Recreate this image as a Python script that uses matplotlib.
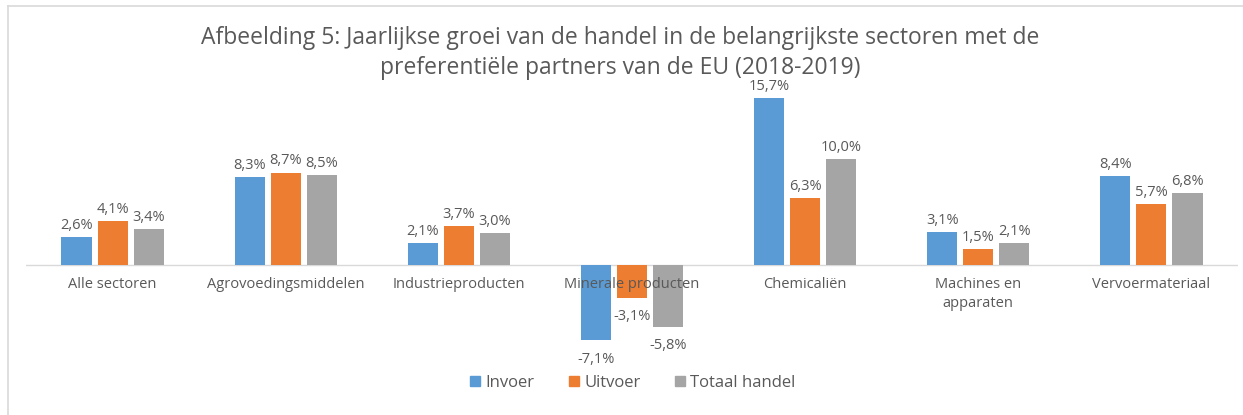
import matplotlib
matplotlib.use("Agg")
import matplotlib.pyplot as plt
from matplotlib.lines import Line2D
import numpy as np

plt.rcParams['font.family'] = ['Open Sans', 'DejaVu Sans']

categories = ["Alle sectoren", "Agrovoedingsmiddelen", "Industrieproducten",
              "Minerale producten", "Chemicaliën", "Machines en\napparaten",
              "Vervoermateriaal"]
series_names = ["Invoer", "Uitvoer", "Totaal handel"]
invoer = [2.6, 8.3, 2.1, -7.1, 15.7, 3.1, 8.4]
uitvoer = [4.1, 8.7, 3.7, -3.1, 6.3, 1.5, 5.7]
totaal = [3.4, 8.5, 3.0, -5.8, 10.0, 2.1, 6.8]
colors = ["#5B9BD5", "#ED7D31", "#A5A5A5"]
text_color = "#595959"

W, H = 1243, 415
fig = plt.figure(figsize=(W / 100, H / 100), dpi=100)

# axes placement in pixels
ax_left, ax_right = 26, 1238
ax_top, ax_bottom = 95, 350
ax = fig.add_axes([ax_left / W, 1 - ax_bottom / H,
                   (ax_right - ax_left) / W, (ax_bottom - ax_top) / H])

x = np.arange(len(categories))
bw = 0.174
step = 0.208
data = [invoer, uitvoer, totaal]
for i, (vals, c, name) in enumerate(zip(data, colors, series_names)):
    pos = x + (i - 1) * step
    ax.bar(pos, vals, width=bw, color=c, label=name, zorder=2)
    for px, v in zip(pos, vals):
        lbl = f"{v:.1f}%".replace(".", ",")
        if v >= 0:
            ax.annotate(lbl, (px, v), xytext=(0, 3), textcoords="offset points",
                        ha="center", va="bottom", fontsize=10.5, color=text_color)
        else:
            ax.annotate(lbl, (px, v), xytext=(0, -8), textcoords="offset points",
                        ha="center", va="top", fontsize=10.5, color=text_color)

ax.set_xlim(-0.5, len(categories) - 0.5)
ax.set_ylim(-8, 16)
ax.axhline(0, color="#D9D9D9", lw=1, zorder=1)
for s in ax.spines.values():
    s.set_visible(False)
ax.set_yticks([])
ax.set_xticks([])
for xi, cat in zip(x, categories):
    fig.text((ax_left + (xi + 0.5) * (ax_right - ax_left) / len(categories)) / W,
             1 - 277 / H, cat, ha="center", va="top", fontsize=10.5,
             color=text_color, linespacing=1.4, zorder=5)

fig.text(620 / W, 1 - 38 / H,
         "Afbeelding 5: Jaarlijkse groei van de handel in de belangrijkste sectoren met de",
         ha="center", va="center", fontsize=16.5, color=text_color)
fig.text(620 / W, 1 - 68 / H,
         "preferentiële partners van de EU (2018-2019)",
         ha="center", va="center", fontsize=16.5, color=text_color)

handles = [Line2D([0], [0], marker="s", color="none", markerfacecolor=c,
                  markeredgecolor=c, markersize=7.5) for c in colors]
fig.legend(handles, series_names, loc="center", bbox_to_anchor=(632 / W, 1 - 383 / H),
           ncol=3, frameon=False, fontsize=12, labelcolor=text_color,
           handletextpad=0.2, columnspacing=2.0, handlelength=0.8)

# chart frame (left and top edges)
fig.add_artist(Line2D([8 / W, 8 / W], [0, 1 - 6 / H], color="#D9D9D9", lw=1.2,
                      transform=fig.transFigure))
fig.add_artist(Line2D([8 / W, 1], [1 - 6 / H, 1 - 6 / H], color="#D9D9D9", lw=1.2,
                      transform=fig.transFigure))

fig.savefig("out.png", dpi=100, facecolor="white")
